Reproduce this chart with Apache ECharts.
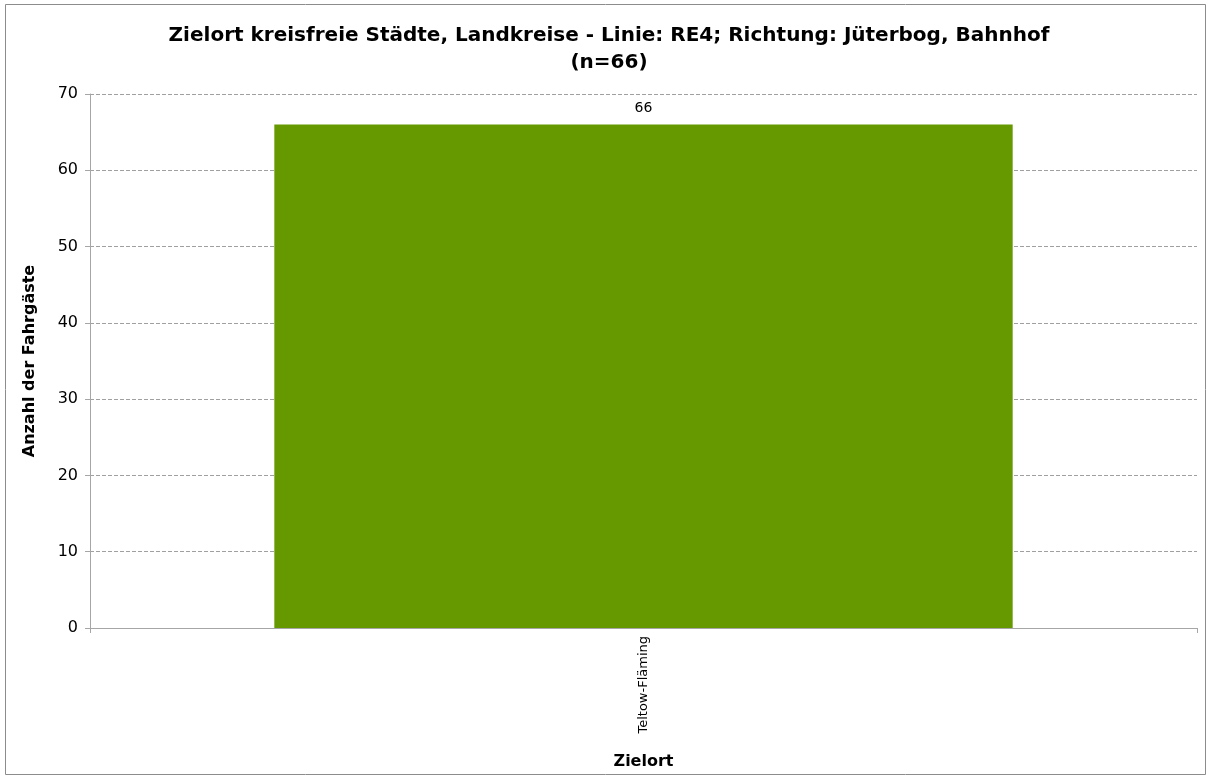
<!DOCTYPE html>
<html>
<head>
<meta charset="utf-8">
<script src="https://cdn.jsdelivr.net/npm/echarts@6/dist/echarts.min.js"></script>
<style>
  html, body { margin: 0; padding: 0; background: #fff; }
  #main { width: 1211px; height: 780px; }
</style>
</head>
<body>
<div id="main"></div>
<script>
// Daten
var categories = ['Teltow-Fläming'];
var values = [66];
var yTicks = [0, 70, 10]; // min, max, interval

(function() {
    var myChart = echarts.init(document.getElementById('main'));
    var font = 'DejaVu Sans, Verdana, sans-serif';
    var option = {
        animation: false,
        title: {
            text: 'Zielort kreisfreie Städte, Landkreise - Linie: RE4; Richtung: Jüterbog, Bahnhof\n(n=66)',
            left: 604,
            top: 17,
            textAlign: 'center',
            textStyle: {
                fontFamily: font,
                fontSize: 20,
                fontWeight: 'bold',
                color: '#000',
                lineHeight: 27,
                align: 'center'
            }
        },
        // Rahmen um das Diagramm
        graphic: [{
            type: 'rect',
            shape: { x: 5.5, y: 4.5, width: 1200, height: 770 },
            style: { fill: 'none', stroke: '#8c8c8c', lineWidth: 1 },
            silent: true
        }],
        grid: {
            left: 90,
            right: 14,
            top: 94,
            bottom: 152
        },
        xAxis: {
            type: 'category',
            data: categories,
            name: 'Zielort',
            nameLocation: 'middle',
            nameGap: 126,
            nameTextStyle: {
                fontFamily: font,
                fontSize: 16,
                fontWeight: 'bold',
                color: '#000'
            },
            axisLine: { lineStyle: { color: '#a6a6a6', width: 1 } },
            axisTick: { show: true, length: 5, lineStyle: { color: '#a6a6a6' } },
            axisLabel: {
                rotate: 90,
                margin: 8,
                fontFamily: font,
                fontSize: 13,
                color: '#000'
            }
        },
        yAxis: {
            type: 'value',
            min: yTicks[0],
            max: yTicks[1],
            interval: yTicks[2],
            name: 'Anzahl der Fahrgäste',
            nameLocation: 'middle',
            nameGap: 52,
            nameTextStyle: {
                fontFamily: font,
                fontSize: 16,
                fontWeight: 'bold',
                color: '#000'
            },
            axisLine: { show: true, lineStyle: { color: '#a6a6a6', width: 1 } },
            axisTick: { show: true, length: 5, lineStyle: { color: '#a6a6a6' } },
            axisLabel: {
                margin: 12,
                fontFamily: font,
                fontSize: 16,
                color: '#000'
            },
            splitLine: {
                lineStyle: { color: '#a0a0a0', type: [4, 2], width: 1 }
            }
        },
        series: [{
            name: 'Fahrgäste',
            type: 'bar',
            data: values,
            barWidth: '66.7%',
            itemStyle: { color: '#669900' },
            label: {
                show: true,
                position: 'top',
                distance: 9,
                fontFamily: font,
                fontSize: 14,
                color: '#000'
            }
        }]
    };
    myChart.setOption(option);
})();
</script>
</body>
</html>
